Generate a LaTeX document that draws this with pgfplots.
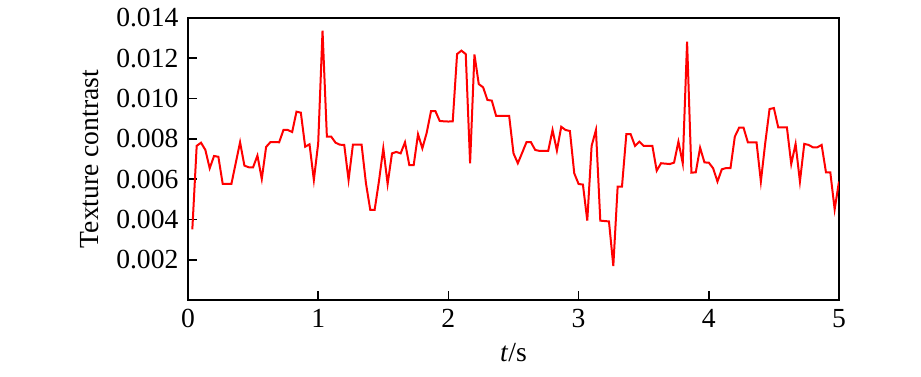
\documentclass[border=0pt]{standalone}
\usepackage{pgfplots}
\pgfplotsset{compat=1.18}
\usepackage{fontspec}
\setmainfont{Liberation Serif}
\begin{document}
\fontsize{13.8pt}{16pt}\selectfont
\begin{tikzpicture}
\useasboundingbox (-94pt,-38pt) rectangle (366.5pt,150pt);
\begin{axis}[
  at={(0,0)}, anchor=south west,
  scale only axis, width=325.5pt, height=141pt,
  xmin=0, xmax=5, ymin=0, ymax=0.014,
  xtick={0,1,2,3,4,5},
  ytick={0.002,0.004,0.006,0.008,0.010,0.012,0.014},
  scaled y ticks=false,
  yticklabel style={/pgf/number format/.cd, fixed, fixed zerofill, precision=3},
  /pgf/number format/assume math mode=true,
  tick align=inside, xtick pos=bottom, ytick pos=left,
  major tick length=4.5pt,
  axis line style={line width=1pt},
  every tick/.style={black, line width=0.8pt},
  tick label style={font=\fontsize{13.8pt}{16pt}\selectfont},
  label style={font=\fontsize{13.8pt}{16pt}\selectfont},
  xlabel={\textit{t}/s},
  ylabel={Texture contrast},
  ylabel style={at={(axis description cs:-0.1505,0.5)}, anchor=center, rotate=0},
  xlabel style={at={(axis description cs:0.5,0)}, anchor=center, yshift=-26.5pt},
]
\addplot[red, line width=1pt, mark=none] table {
x y
0.0333 0.00351
0.0667 0.00765
0.1000 0.00781
0.1333 0.00745
0.1667 0.00654
0.2000 0.00715
0.2333 0.00711
0.2667 0.00576
0.3000 0.00576
0.3333 0.00576
0.3667 0.00680
0.4000 0.00783
0.4333 0.00667
0.4667 0.00659
0.5000 0.00659
0.5333 0.00717
0.5667 0.00601
0.6000 0.00760
0.6333 0.00784
0.6667 0.00784
0.7000 0.00783
0.7333 0.00844
0.7667 0.00844
0.8000 0.00834
0.8333 0.00935
0.8667 0.00930
0.9000 0.00761
0.9333 0.00773
0.9667 0.00596
1.0000 0.00778
1.0333 0.01337
1.0667 0.00811
1.1000 0.00811
1.1333 0.00781
1.1667 0.00771
1.2000 0.00770
1.2333 0.00596
1.2667 0.00771
1.3000 0.00771
1.3333 0.00771
1.3667 0.00580
1.4000 0.00447
1.4333 0.00447
1.4667 0.00590
1.5000 0.00753
1.5333 0.00576
1.5667 0.00728
1.6000 0.00735
1.6333 0.00728
1.6667 0.00783
1.7000 0.00669
1.7333 0.00669
1.7667 0.00823
1.8000 0.00753
1.8333 0.00830
1.8667 0.00938
1.9000 0.00938
1.9333 0.00889
1.9667 0.00887
2.0000 0.00886
2.0333 0.00887
2.0667 0.01221
2.1000 0.01238
2.1333 0.01221
2.1667 0.00679
2.2000 0.01219
2.2333 0.01072
2.2667 0.01056
2.3000 0.00993
2.3333 0.00990
2.3667 0.00914
2.4000 0.00914
2.4333 0.00914
2.4667 0.00914
2.5000 0.00728
2.5333 0.00679
2.5667 0.00731
2.6000 0.00784
2.6333 0.00784
2.6667 0.00745
2.7000 0.00740
2.7333 0.00740
2.7667 0.00740
2.8000 0.00844
2.8333 0.00742
2.8667 0.00860
2.9000 0.00844
2.9333 0.00839
2.9667 0.00629
3.0000 0.00576
3.0333 0.00573
3.0667 0.00394
3.1000 0.00765
3.1333 0.00844
3.1667 0.00394
3.2000 0.00392
3.2333 0.00390
3.2667 0.00169
3.3000 0.00563
3.3333 0.00563
3.3667 0.00823
3.4000 0.00823
3.4333 0.00765
3.4667 0.00786
3.5000 0.00765
3.5333 0.00765
3.5667 0.00765
3.6000 0.00642
3.6333 0.00679
3.6667 0.00677
3.7000 0.00675
3.7333 0.00682
3.7667 0.00786
3.8000 0.00679
3.8333 0.01283
3.8667 0.00632
3.9000 0.00634
3.9333 0.00756
3.9667 0.00683
4.0000 0.00682
4.0333 0.00654
4.0667 0.00588
4.1000 0.00649
4.1333 0.00655
4.1667 0.00655
4.2000 0.00811
4.2333 0.00856
4.2667 0.00856
4.3000 0.00783
4.3333 0.00783
4.3667 0.00783
4.4000 0.00588
4.4333 0.00778
4.4667 0.00948
4.5000 0.00953
4.5333 0.00857
4.5667 0.00857
4.6000 0.00857
4.6333 0.00675
4.6667 0.00775
4.7000 0.00588
4.7333 0.00775
4.7667 0.00770
4.8000 0.00758
4.8333 0.00758
4.8667 0.00770
4.9000 0.00634
4.9333 0.00634
4.9667 0.00450
5.0000 0.00588
};
\end{axis}
\end{tikzpicture}
\end{document}
